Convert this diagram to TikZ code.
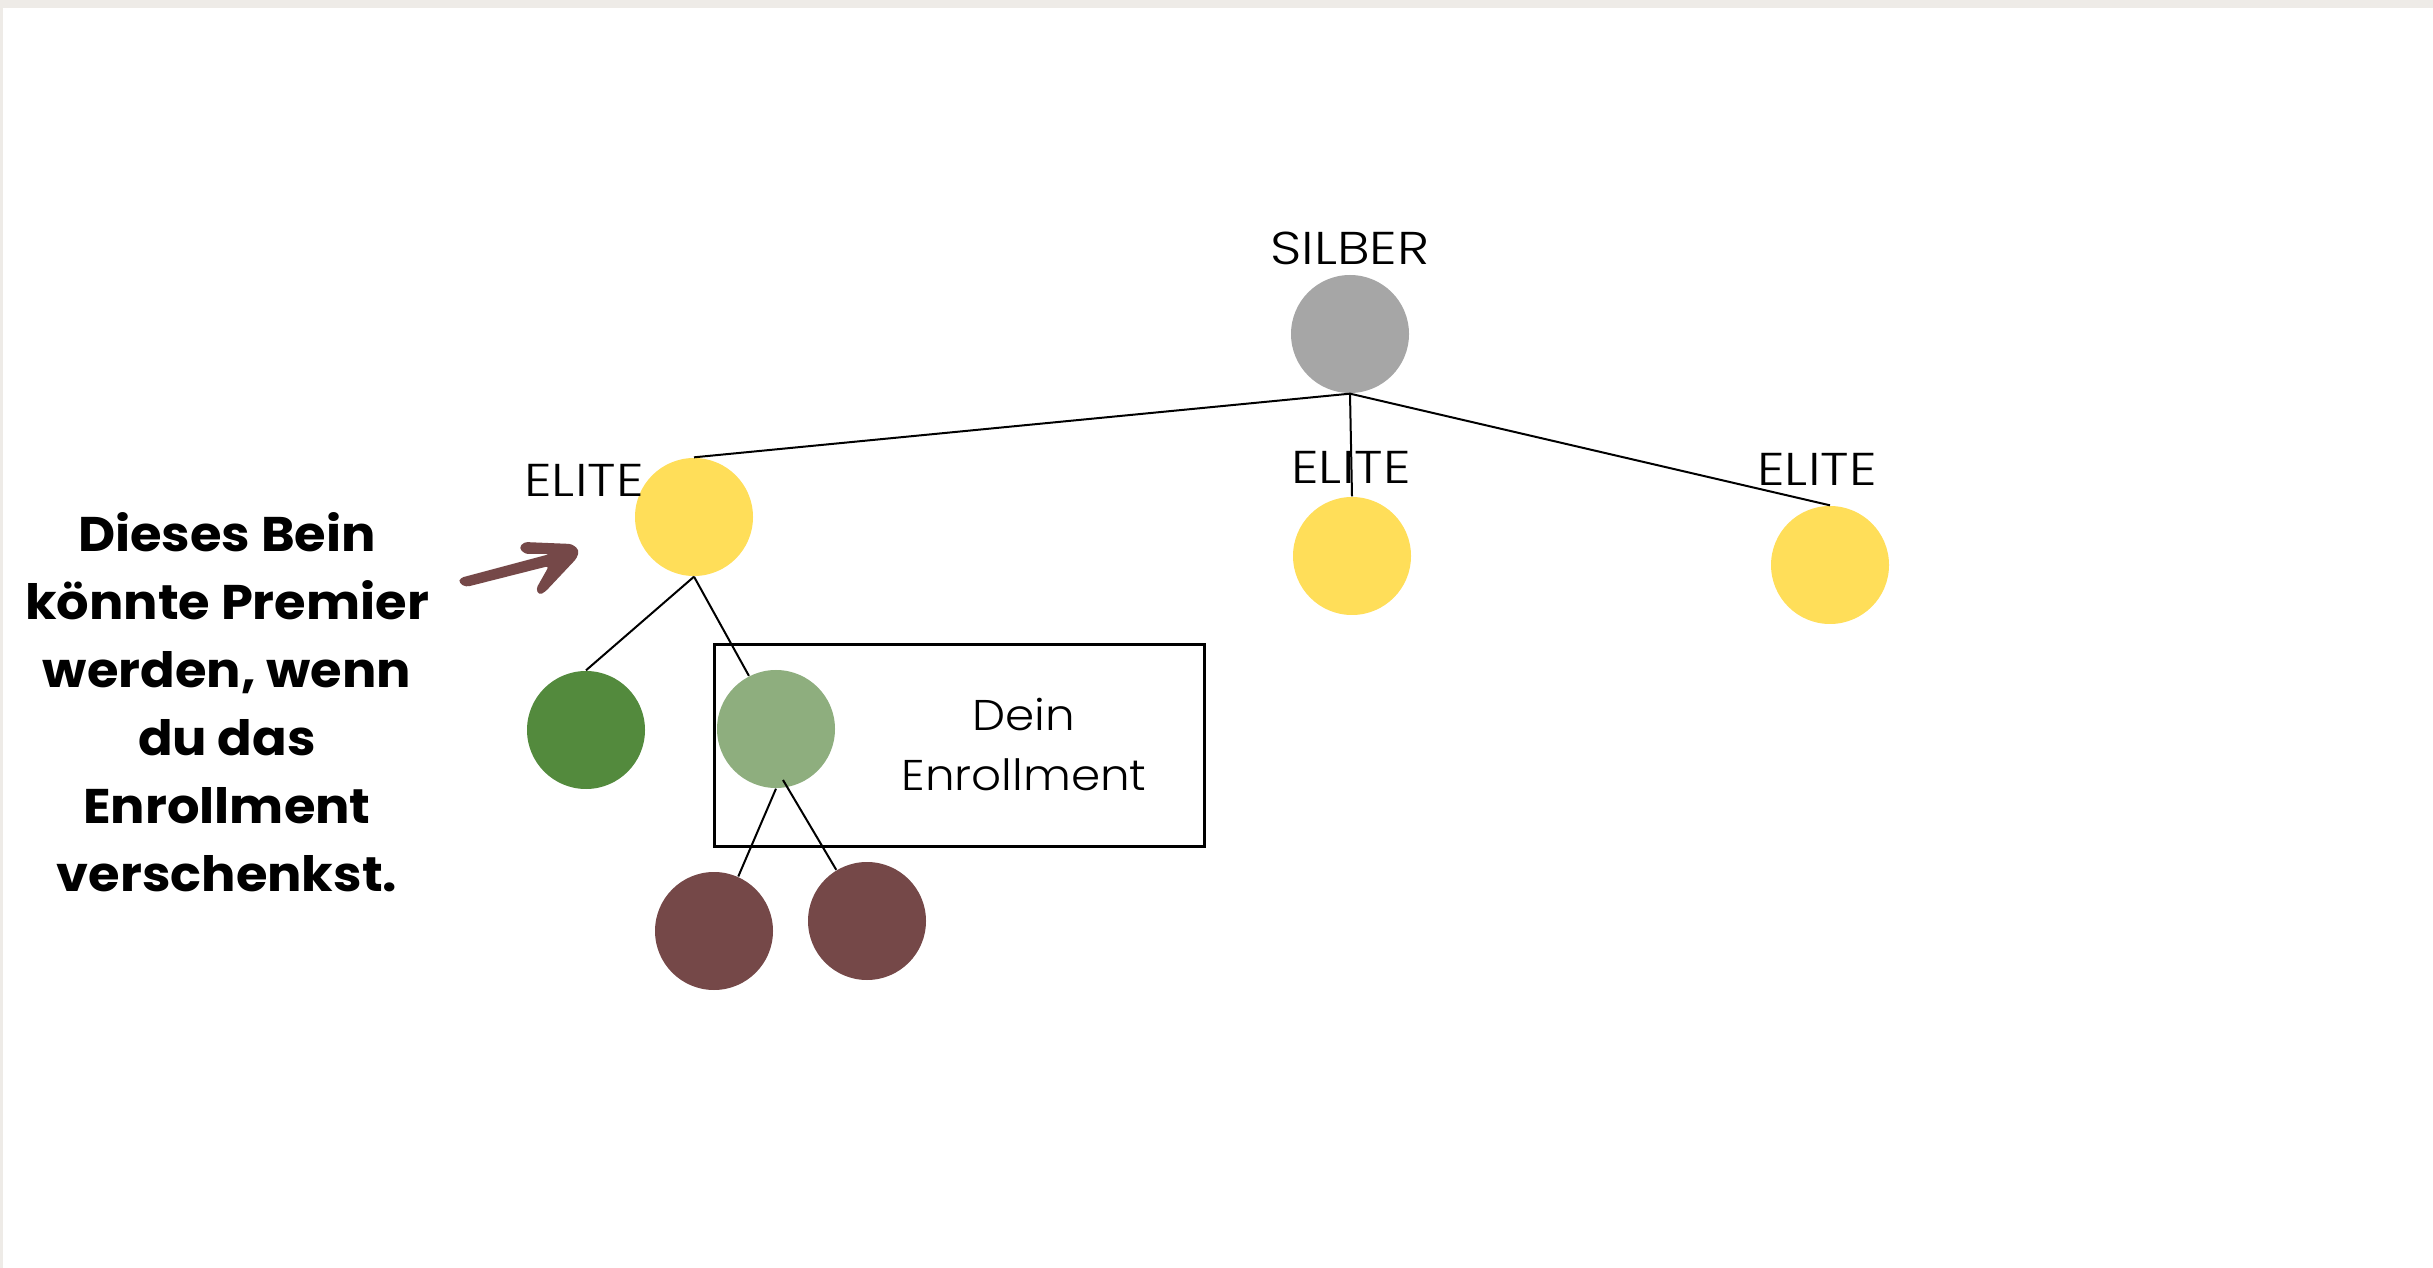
\documentclass[tikz,border=0pt]{standalone}
\usepackage{fontspec}
\newfontfamily\lightfont{Poppins Light}[FakeStretch=1.19]
\newfontfamily\boxfont{Poppins Light}[FakeStretch=1.09]
\newfontfamily\boldfont{Poppins}[FakeStretch=1.05]
\definecolor{bandgray}{HTML}{EEEBE7}
\definecolor{silbergray}{HTML}{A6A6A6}
\definecolor{eliteyellow}{HTML}{FFDE59}
\definecolor{darkgreen}{HTML}{538A3D}
\definecolor{lightgreen}{HTML}{8EAE7E}
\definecolor{brownred}{HTML}{754848}
\tikzset{
  dot/.style={circle, minimum size=35.4pt, inner sep=0pt, draw=none},
  lbl/.style={inner sep=0pt, font=\lightfont\fontsize{13.8pt}{16pt}\selectfont},
  conn/.style={draw=black, line width=0.6pt},
}
\begin{document}
\begin{tikzpicture}[x=0.3pt, y=-0.3pt]
\useasboundingbox (0,0) rectangle (2433,1268);
\fill[white] (0,0) rectangle (2433,1268);
\fill[bandgray] (0,0) rectangle (2433,8);
\fill[bandgray] (0,0) rectangle (3,1268);

% circles
\node[dot, fill=silbergray] (silber) at (1350,334) {};
\node[dot, fill=eliteyellow] (e1) at (694,517) {};
\node[dot, fill=eliteyellow] (e2) at (1352,556) {};
\node[dot, fill=eliteyellow] (e3) at (1830,565) {};
\node[dot, fill=darkgreen] (dg) at (586,730) {};
\node[dot, fill=lightgreen] (lg) at (776,729) {};
\node[dot, fill=brownred] (b1) at (714,931) {};
\node[dot, fill=brownred] (b2) at (867,921) {};

% labels
\node[lbl] (lsilber) at (1350,248) {SILBER};
\node[lbl] (le1) at (584,480) {ELITE};
\node[lbl] (le2) at (1351,467) {ELITE};
\node[lbl] (le3) at (1817,469) {ELITE};

% box
\node[draw=black, line width=0.9pt, minimum width=147pt, minimum height=60.3pt, inner sep=0pt] (box) at (959,745.5) {};
\node[inner sep=0pt, align=center, font=\boxfont\fontsize{12.9pt}{18pt}\selectfont] (dein) at (1024,745) {Dein\\Enrollment};

% connectors
\draw[conn] (silber.south) -- (e1.north);
\draw[conn] (silber.south) -- (e2.north);
\draw[conn] (silber.south) -- (e3.north);
\draw[conn] (e1.south) -- (dg.north);
\draw[conn] (e1.south) -- (lg.117);
\coordinate (lgin) at (783,780);
\draw[conn] (lg.south) -- (b1.66);
\draw[conn] (lgin) -- (b2.121);

% left text
\node[inner sep=0pt, align=center, font=\boldfont\bfseries\fontsize{14.6pt}{20.4pt}\selectfont] (note) at (227,702)
  {Dieses Bein\\könnte Premier\\werden, wenn\\du das\\Enrollment\\verschenkst.};

% hand-drawn brush arrow
\fill[brownred, rounded corners=1pt]
  (460,578) -- (550,554) -- (525,554) -- (519,548) -- (524,542)
  -- (572,544) -- (579,550) -- (577,558) -- (545,592) -- (539,595)
  -- (536,589) -- (549,566) -- (466,587) -- (459,583) -- cycle;
\end{tikzpicture}
\end{document}
